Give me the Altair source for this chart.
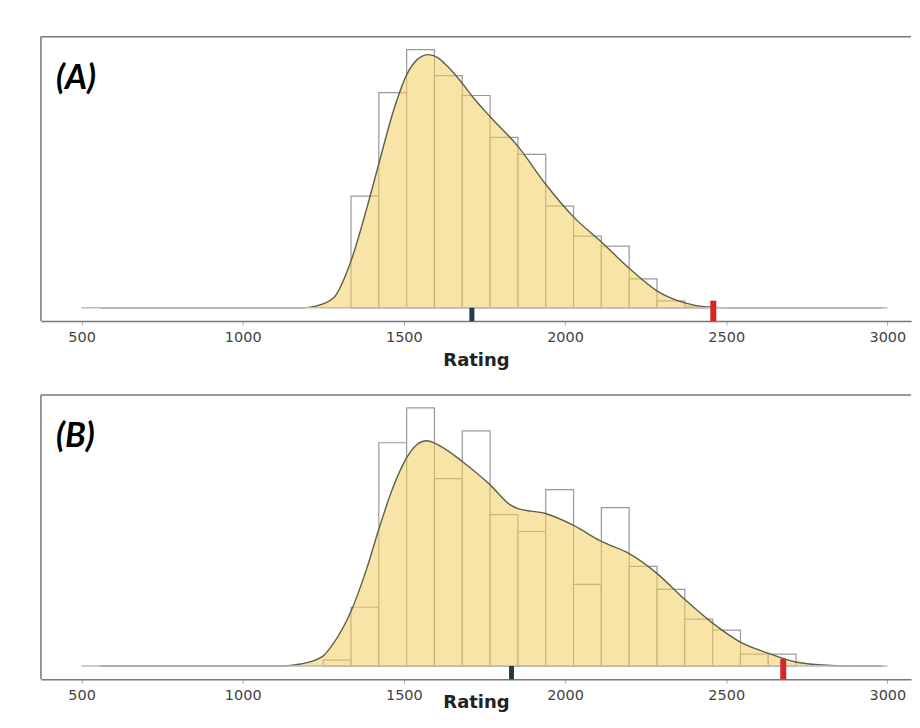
import altair as alt
import pandas as pd

# ---------------- data ----------------
bin_lo = [1249.7, 1336.0, 1422.3, 1508.6, 1594.9, 1681.2, 1767.5, 1853.8, 1940.1,
          2026.4, 2112.7, 2199.0, 2285.3, 2371.6, 2457.9, 2544.2, 2630.5]
bin_hi = [1336.0, 1422.3, 1508.6, 1594.9, 1681.2, 1767.5, 1853.8, 1940.1, 2026.4,
          2112.7, 2199.0, 2285.3, 2371.6, 2457.9, 2544.2, 2630.5, 2716.8]

counts_a = [0, 112, 216, 259, 233, 213, 171, 154, 102, 72, 62, 29, 7, 1, 0, 0, 0]
counts_b = [6, 59, 224, 259, 188, 236, 152, 135, 177, 82, 159, 100, 77, 47, 36, 12, 12]

dens_a_x = [557, 1180, 1230, 1282, 1336, 1385, 1421, 1468, 1509, 1545, 1576, 1605, 1633,
            1684, 1715, 1767, 1854, 1940, 2027, 2113, 2198, 2285, 2371, 2438, 2520, 2985]
dens_a_y = [0, 0, 2, 10, 47, 100, 143, 198, 234, 250, 254, 251, 243,
            224, 211, 192, 162, 124, 91, 66, 40, 17, 5, 1, 0, 0]

dens_b_x = [557, 1120, 1179, 1249, 1282, 1336, 1385, 1421, 1465, 1507, 1540, 1571, 1612,
            1682, 1767, 1829, 1854, 1940, 2027, 2113, 2198, 2285, 2371, 2458, 2544,
            2629, 2716, 2799, 2880, 2985]
dens_b_y = [0, 0, 2, 10, 23, 55, 98, 136, 178, 208, 222, 226, 221,
            205, 182, 162, 158, 153, 141, 125, 113, 93, 67, 43, 24,
            13, 4, 1, 0, 0]

marker_mean = [1711, 1834]      # dark rug marks
marker_player = [2460, 2677]    # red rug marks
panel_labels = ["(A)", "(B)"]
tick_values = [500, 1000, 1500, 2000, 2500, 3000]
baseline_range = [500, 3000]

# ---------------- layout ----------------
W = 872
H = 285
XDOM = [374, 374 + W / 0.32304]
YDOM = [-13.3, 272]

xs = alt.Scale(domain=XDOM, nice=False, zero=False)
ys = alt.Scale(domain=YDOM, nice=False, zero=False)


def make_axis(title_pad):
    return alt.Axis(
        values=tick_values, format="d", title="Rating", grid=False,
        domainColor="#777777", domainWidth=1.5,
        tickColor="#aaaaaa", tickSize=4, tickWidth=1,
        labelFont="DejaVu Sans", labelFontSize=14.5, labelColor="#444444",
        labelPadding=5,
        titleFont="DejaVu Sans", titleFontSize=18, titleFontWeight="bold",
        titleColor="#222222", titlePadding=title_pad)


def panel(counts, dx, dy, mean, player, label, title_pad):
    xaxis = make_axis(title_pad)

    def X(field):
        return alt.X(field, scale=xs, axis=xaxis, title="Rating")

    bars = pd.DataFrame({"lo": bin_lo, "hi": bin_hi, "n": counts})
    bars = bars[bars["n"] > 0]
    dens = pd.DataFrame({"r": dx, "d": dy})

    base_df = pd.DataFrame({"a": [baseline_range[0]], "b": [baseline_range[1]], "z": [0]})

    rects = alt.Chart(bars).mark_rect(fill="white", stroke="#999999", strokeWidth=1.2).encode(
        x=X("lo:Q"),
        x2="hi:Q",
        y=alt.Y("n:Q", scale=ys, axis=None),
        y2=alt.datum(0),
    )

    area = alt.Chart(dens).mark_area(color="#f2cd5c", opacity=0.55, interpolate="monotone").encode(
        x=X("r:Q"),
        y=alt.Y("d:Q", scale=ys, axis=None),
        y2=alt.datum(0),
    )
    line = alt.Chart(dens).mark_line(color="#5e5e4a", strokeWidth=1.4, interpolate="monotone").encode(
        x=X("r:Q"),
        y=alt.Y("d:Q", scale=ys, axis=None),
    )

    baseline = alt.Chart(base_df).mark_rule(color="#bbbbbb", strokeWidth=1.5).encode(
        x=X("a:Q"),
        x2="b:Q",
        y=alt.Y("z:Q", scale=ys, axis=None),
    )

    m1 = alt.Chart(pd.DataFrame({"r": [mean]})).mark_rule(color="#1f3b4f", strokeWidth=5).encode(
        x=X("r:Q"),
        y=alt.value(H), y2=alt.value(H - 13.3),
    )
    m2 = alt.Chart(pd.DataFrame({"r": [player]})).mark_rule(color="#d62728", strokeWidth=6).encode(
        x=X("r:Q"),
        y=alt.value(H), y2=alt.value(H - 20.5),
    )

    top = alt.Chart(base_df).mark_rule(color="#777777", strokeWidth=1.5).encode(
        x=alt.value(0), x2=alt.value(W), y=alt.value(0))
    left = alt.Chart(base_df).mark_rule(color="#777777", strokeWidth=1.5).encode(
        x=alt.value(0), y=alt.value(0), y2=alt.value(H))

    txt = alt.Chart(pd.DataFrame({"t": [label]})).mark_text(
        font="Lato", fontSize=34, fontWeight="bold", fontStyle="italic",
        align="left", baseline="middle", color="black").encode(
        text="t:N", x=alt.value(15), y=alt.value(42))

    return alt.layer(rects, area, line, baseline, m1, m2, top, left, txt).properties(
        width=W, height=H)


pa = panel(counts_a, dens_a_x, dens_a_y, marker_mean[0], marker_player[0], panel_labels[0], 8)
pb = panel(counts_b, dens_b_x, dens_b_y, marker_mean[1], marker_player[1], panel_labels[1], -8)

chart = alt.vconcat(pa, pb, spacing=24).properties(
    padding={"left": 32, "top": 27, "right": 0, "bottom": 0}
).configure_view(stroke=None)

chart.save("out.html", embed_options={"renderer": "svg", "actions": False})
